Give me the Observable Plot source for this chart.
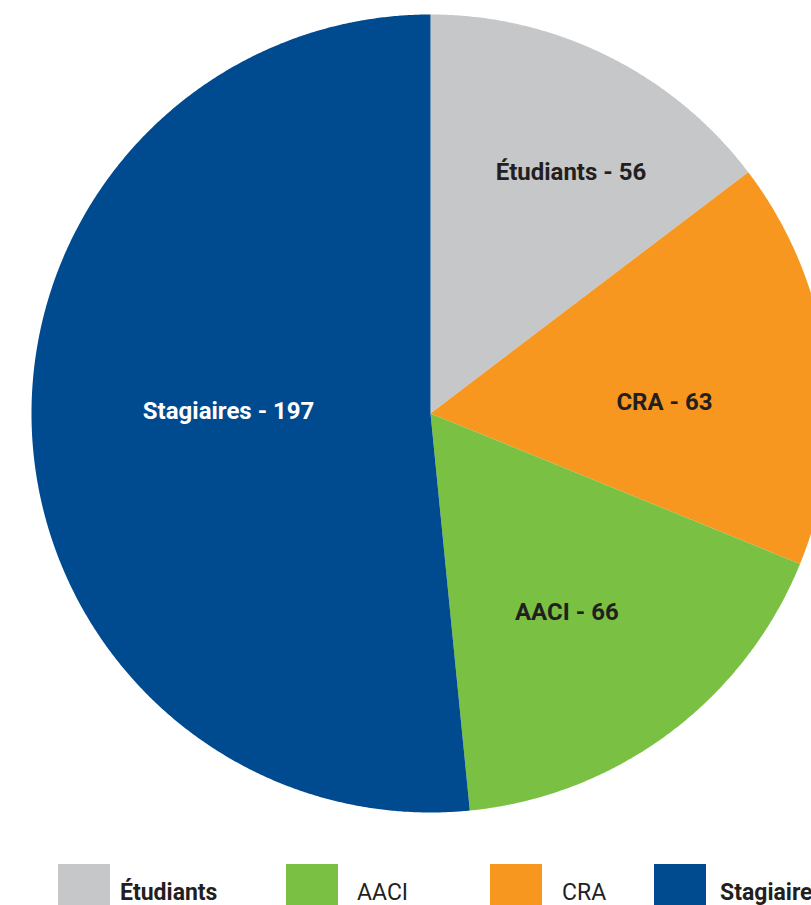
<!DOCTYPE html>
<html>
<head>
<meta charset="utf-8">
<script src="https://cdn.jsdelivr.net/npm/d3@7"></script>
<script src="https://cdn.jsdelivr.net/npm/@observablehq/plot@0.6"></script>
<style>
  html, body { margin: 0; padding: 0; background: #fff; overflow: hidden; width: 811px; height: 905px; }
  #chart svg { display: block; overflow: hidden; }
  #legend { position: relative; height: 55px; font-family: Roboto, "DejaVu Sans", sans-serif; color: #231f20; }
  .item { position: absolute; top: 14px; display: flex; align-items: flex-start; white-space: nowrap; }
  .sw { width: 52px; height: 44px; flex: none; }
  .lab { font-size: 23px; line-height: 1.17; }
</style>
</head>
<body>
<div id="chart"></div>
<div id="legend"></div>
<script>
const categories = ["Étudiants", "CRA", "AACI", "Stagiaires"];
const values = [56, 63, 66, 197];
const colors = ["#c6c7c8", "#f7971f", "#7ac143", "#004a8f"];
const labelColors = ["#231f20", "#231f20", "#231f20", "#ffffff"];
const legendOrder = ["Étudiants", "AACI", "CRA", "Stagiaires"];
const legendBold = [true, false, false, true];

// layout of in-slice labels: radial fraction and angular nudge (degrees)
const labelRadius = [0.70, 0.587, 0.604, 0.506];
const labelNudge = [3.8, 4.8, 2.3, 3.4];

const R = 399;
const pie = d3.pie().sort(null).value(d => d)(values);

// slice polygons in data space (angle clockwise from top)
const polys = [];
pie.forEach((p, i) => {
  const a0 = p.startAngle, a1 = p.endAngle;
  polys.push({cat: categories[i], x: 0, y: 0});
  const n = Math.max(2, Math.ceil((a1 - a0) / 0.005));
  for (let j = 0; j <= n; j++) {
    const a = a0 + (a1 - a0) * j / n;
    polys.push({cat: categories[i], x: R * Math.sin(a), y: R * Math.cos(a)});
  }
});

const labels = pie.map((p, i) => {
  const m = (p.startAngle + p.endAngle) / 2 + labelNudge[i] * Math.PI / 180;
  const f = labelRadius[i];
  return {text: `${categories[i]} - ${values[i]}`, x: R * f * Math.sin(m), y: R * f * Math.cos(m), c: labelColors[i]};
});

const chart = Plot.plot({
  width: 811,
  height: 850,
  margin: 0,
  x: {domain: [-430, 381], range: [0, 811], axis: null},
  y: {domain: [413, -437], range: [0, 850], axis: null},
  color: {domain: categories, range: colors},
  style: {background: "#fff", fontFamily: "Roboto, 'DejaVu Sans', sans-serif"},
  marks: [
    Plot.line(polys, {x: "x", y: "y", z: "cat", fill: "cat", stroke: "none", curve: "linear-closed"}),
    Plot.text(labels, {x: "x", y: "y", text: "text", fill: "c", fontSize: 24, fontWeight: "bold"})
  ]
});
document.getElementById("chart").appendChild(chart);

const lg = document.getElementById("legend");
const lefts = [58, 286, 490, 654];
const gaps = [10, 19, 20, 14];
legendOrder.forEach((c, i) => {
  const it = document.createElement("div");
  it.className = "item";
  it.style.left = lefts[i] + "px";
  const sw = document.createElement("div");
  sw.className = "sw";
  sw.style.background = colors[categories.indexOf(c)];
  const lb = document.createElement("div");
  lb.className = "lab";
  lb.textContent = c;
  lb.style.fontWeight = legendBold[i] ? "bold" : "normal";
  lb.style.marginTop = "16px";
  lb.style.marginLeft = gaps[i] + "px";
  it.appendChild(sw); it.appendChild(lb);
  lg.appendChild(it);
});
</script>
</body>
</html>
